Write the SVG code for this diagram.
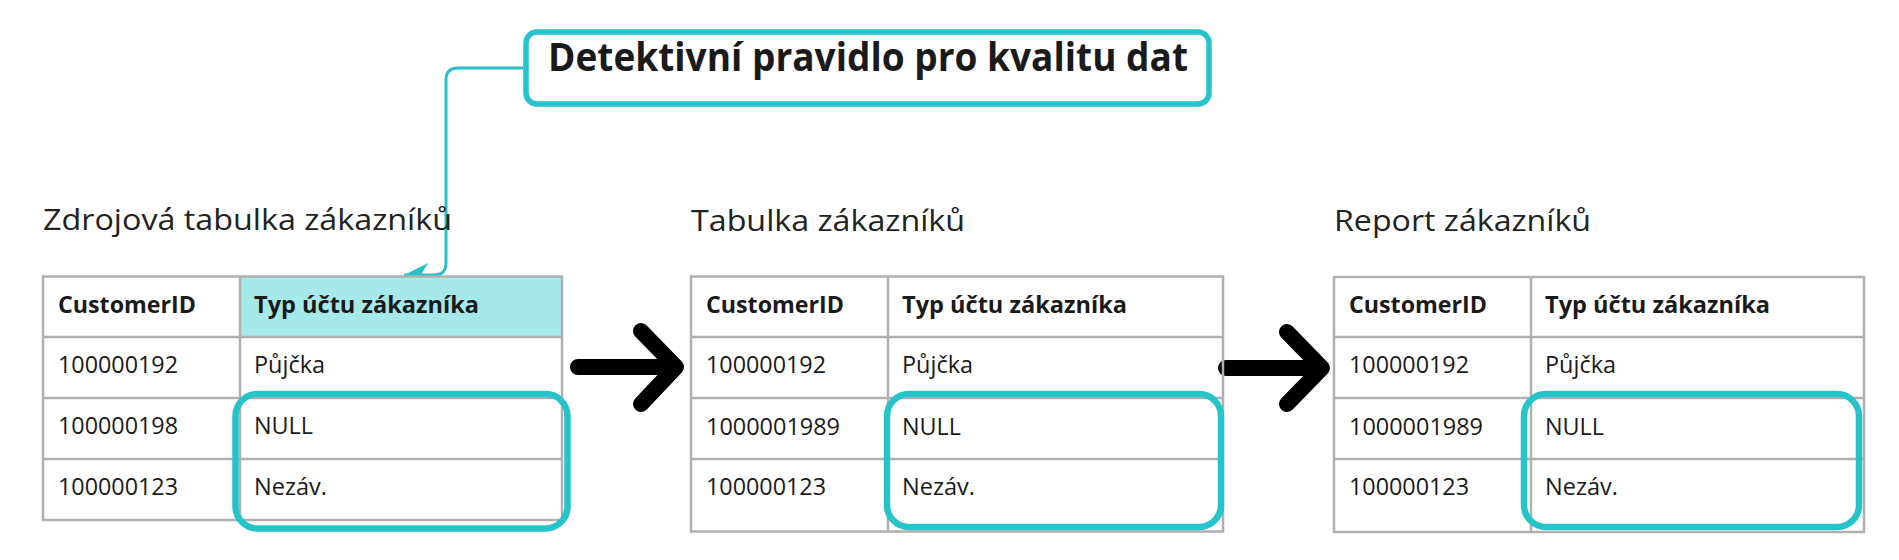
<svg xmlns="http://www.w3.org/2000/svg" width="1899" height="560" viewBox="0 0 1899 560">
<style>
  .title{font-family:"Open Sans","Noto Sans",sans-serif;font-weight:700;font-size:39px;fill:#1a1a1a}
  .head{font-family:"Open Sans","Noto Sans",sans-serif;font-size:30px;fill:#222}
  .th{font-family:"Open Sans","Noto Sans",sans-serif;font-weight:700;font-size:23px;fill:#1a1a1a}
  .td{font-family:"Open Sans","Noto Sans",sans-serif;font-size:23px;fill:#1a1a1a}
  .grid{fill:none;stroke:#b0b0b0;stroke-width:2.5}
  .hl{fill:none;stroke:#26c3cb;stroke-width:6.5}
  .big{fill:none;stroke:#000;stroke-width:16;stroke-linecap:round;stroke-linejoin:round}
  .link{fill:none;stroke:#2bbfc8;stroke-width:3}
</style>
<defs>
  <marker id="ah" markerUnits="userSpaceOnUse" markerWidth="28" markerHeight="28" viewBox="0 -14 28 28" refX="24" refY="0" orient="auto">
    <path d="M0,-12 L24,0 L0,12 L7,0 Z" fill="#26c3cb"/>
  </marker>
</defs>
<rect width="1899" height="560" fill="#fff"/>

<g id="rule">
  <rect x="526" y="32" width="683" height="72" rx="11" fill="#fff" stroke="#26c3cb" stroke-width="5.5"/>
  <text class="title" x="548" y="71" textLength="640" lengthAdjust="spacingAndGlyphs">Detektivní pravidlo pro kvalitu dat</text>
</g>

<g id="connectors">
  <path class="link" d="M523,68 H458 Q446,68 446,80 V263 Q446,275 434,275 H404" marker-end="url(#ah)"/>
  <path class="big" d="M578,367 H674 M641,331 L676,367 L641,404"/>
  <path class="big" d="M1226,368 H1320 M1287,332 L1322,368 L1287,404"/>
</g>

<g id="source-table">
  <text class="head" x="43" y="230" textLength="409" lengthAdjust="spacingAndGlyphs">Zdrojová tabulka zákazníků</text>
  <rect x="240" y="276.5" width="322" height="60.5" fill="#a5e9eb"/>
  <rect class="grid" x="43" y="276.5" width="519" height="243.5"/>
  <path class="grid" d="M240,276.5 V520 M43,337 H562 M43,398 H562 M43,459 H562"/>
  <text class="th" x="58" y="313" textLength="138" lengthAdjust="spacingAndGlyphs">CustomerID</text>
  <text class="th" x="254" y="313" textLength="225" lengthAdjust="spacingAndGlyphs">Typ účtu zákazníka</text>
  <text class="td" x="58" y="373" textLength="120" lengthAdjust="spacingAndGlyphs">100000192</text>
  <text class="td" x="254" y="373" textLength="71" lengthAdjust="spacingAndGlyphs">Půjčka</text>
  <text class="td" x="58" y="434" textLength="120" lengthAdjust="spacingAndGlyphs">100000198</text>
  <text class="td" x="254" y="434" textLength="59" lengthAdjust="spacingAndGlyphs">NULL</text>
  <text class="td" x="58" y="495" textLength="120" lengthAdjust="spacingAndGlyphs">100000123</text>
  <text class="td" x="254" y="495" textLength="73" lengthAdjust="spacingAndGlyphs">Nezáv.</text>
  <rect class="hl" x="235.5" y="394" width="332" height="134.5" rx="22"/>
</g>

<g id="customer-table">
  <text class="head" x="691" y="231" textLength="274" lengthAdjust="spacingAndGlyphs">Tabulka zákazníků</text>
  <rect class="grid" x="691" y="276.5" width="532" height="255"/>
  <path class="grid" d="M888,276.5 V531.5 M691,337 H1223 M691,398 H1223 M691,459 H1223"/>
  <text class="th" x="706" y="313" textLength="138" lengthAdjust="spacingAndGlyphs">CustomerID</text>
  <text class="th" x="902" y="313" textLength="225" lengthAdjust="spacingAndGlyphs">Typ účtu zákazníka</text>
  <text class="td" x="706" y="373" textLength="120" lengthAdjust="spacingAndGlyphs">100000192</text>
  <text class="td" x="902" y="373" textLength="71" lengthAdjust="spacingAndGlyphs">Půjčka</text>
  <text class="td" x="706" y="435" textLength="134" lengthAdjust="spacingAndGlyphs">1000001989</text>
  <text class="td" x="902" y="435" textLength="59" lengthAdjust="spacingAndGlyphs">NULL</text>
  <text class="td" x="706" y="495" textLength="120" lengthAdjust="spacingAndGlyphs">100000123</text>
  <text class="td" x="902" y="495" textLength="73" lengthAdjust="spacingAndGlyphs">Nezáv.</text>
  <rect class="hl" x="887" y="394" width="334" height="133" rx="22"/>
</g>

<g id="report-table">
  <text class="head" x="1334" y="231" textLength="257" lengthAdjust="spacingAndGlyphs">Report zákazníků</text>
  <rect class="grid" x="1334" y="277" width="530" height="255"/>
  <path class="grid" d="M1531,277 V532 M1334,337 H1864 M1334,398 H1864 M1334,459 H1864"/>
  <text class="th" x="1349" y="313" textLength="138" lengthAdjust="spacingAndGlyphs">CustomerID</text>
  <text class="th" x="1545" y="313" textLength="225" lengthAdjust="spacingAndGlyphs">Typ účtu zákazníka</text>
  <text class="td" x="1349" y="373" textLength="120" lengthAdjust="spacingAndGlyphs">100000192</text>
  <text class="td" x="1545" y="373" textLength="71" lengthAdjust="spacingAndGlyphs">Půjčka</text>
  <text class="td" x="1349" y="435" textLength="134" lengthAdjust="spacingAndGlyphs">1000001989</text>
  <text class="td" x="1545" y="435" textLength="59" lengthAdjust="spacingAndGlyphs">NULL</text>
  <text class="td" x="1349" y="495" textLength="120" lengthAdjust="spacingAndGlyphs">100000123</text>
  <text class="td" x="1545" y="495" textLength="73" lengthAdjust="spacingAndGlyphs">Nezáv.</text>
  <rect class="hl" x="1524" y="394" width="335" height="133" rx="22"/>
</g>
</svg>
